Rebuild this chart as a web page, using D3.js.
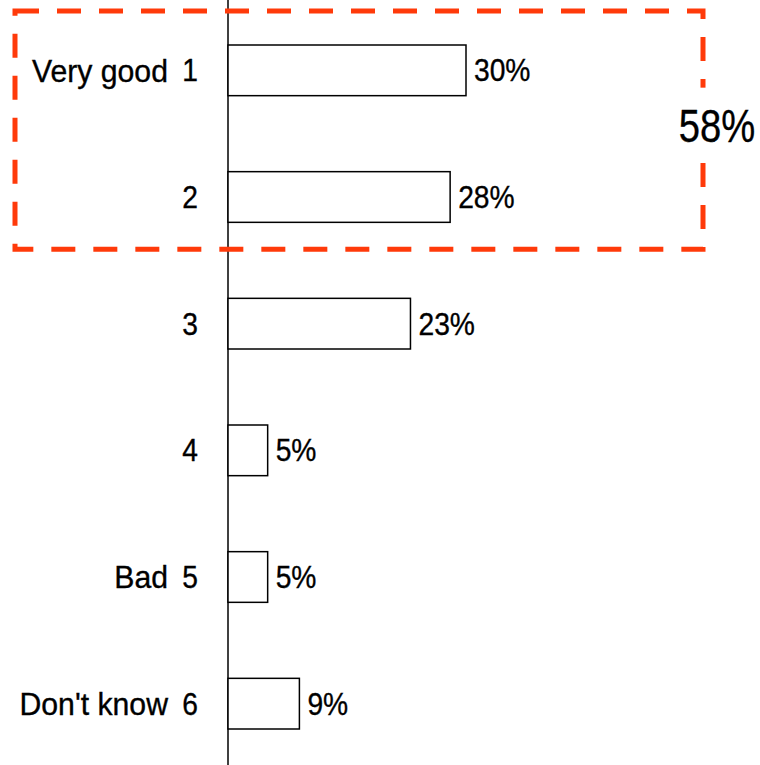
<!DOCTYPE html>
<html><head><meta charset="utf-8">
<script src="https://cdn.jsdelivr.net/npm/d3@7"></script>
<style>body{margin:0;background:#fff}svg{display:block}</style>
</head><body>
<svg id="c" width="760" height="765"></svg>
<script>
const codes = ["1","2","3","4","5","6"];
const names = ["Very good","","","","Bad","Don't know"];
const values = [30,28,23,5,5,9];
const groupTotal = "58%";
const groupCodes = ["1","2"];

const svg = d3.select("#c");
const FONT = "'Liberation Sans Narrow','Liberation Sans',Arial,sans-serif";
const x0 = 228;
const x = d3.scaleLinear().domain([0,30]).range([x0, 466]);
const y = d3.scaleBand().domain(codes).range([7, 767]).paddingInner(0.6).paddingOuter(0.3);

function narrow(sel, xf, yf, anchor, size, sx){
  sel.attr("transform",(d,i)=>`translate(${xf(d,i)},${yf(d,i)}) scale(${sx},1)`)
    .attr("text-anchor",anchor).attr("dy","0.36em")
    .attr("font-family",FONT).attr("font-size",size).attr("fill","#000")
    .attr("stroke","#000").attr("stroke-width",0.35);
}

// axis line
svg.append("line").attr("x1",x0).attr("x2",x0).attr("y1",0).attr("y2",765)
  .attr("stroke","#000").attr("stroke-width",1.5);

// bars
svg.selectAll("rect.bar").data(values).join("rect").attr("class","bar")
  .attr("x",x0).attr("y",(d,i)=>y(codes[i]))
  .attr("width",d=>x(d)-x0).attr("height",y.bandwidth())
  .attr("fill","#fff").attr("stroke","#000").attr("stroke-width",1.5);

const cy = (d,i)=>y(codes[i])+y.bandwidth()/2;

// value labels
svg.selectAll("text.val").data(values).join("text").attr("class","val")
  .call(narrow, d=>x(d)+8, cy, "start", 31, 0.91).text(d=>d+"%");

// codes
svg.selectAll("text.code").data(codes).join("text").attr("class","code")
  .call(narrow, ()=>198, cy, "end", 31, 0.91).text(d=>d);

// names
svg.selectAll("text.name").data(names).join("text").attr("class","name")
  .call(narrow, ()=>168, cy, "end", 31, 0.975).text(d=>d);

// dashed group box
const gTop = y(groupCodes[0]) - 34;
const gBot = y(groupCodes[groupCodes.length-1]) + y.bandwidth() + 27;
svg.append("rect").attr("x",15).attr("y",gTop).attr("width",688).attr("height",gBot-gTop)
  .attr("fill","none").attr("stroke","#FF3A0A").attr("stroke-width",5)
  .attr("stroke-dasharray","24,18");

// total label with white background
const midY = (y(groupCodes[0]) + y(groupCodes[1]) + y.bandwidth())/2 - 8;
svg.append("rect").attr("x",676).attr("y",midY-38).attr("width",84).attr("height",74).attr("fill","#fff");
svg.append("text").datum(groupTotal)
  .call(narrow, ()=>717, ()=>midY, "middle", 46, 0.83).text(d=>d);
</script>
</body></html>
